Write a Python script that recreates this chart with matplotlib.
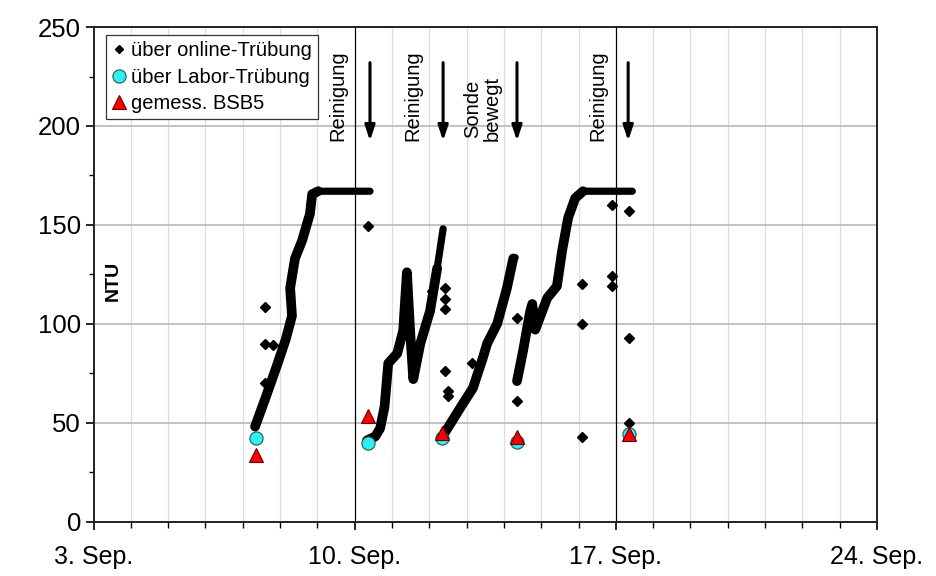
import matplotlib
matplotlib.use("Agg")
import matplotlib.pyplot as plt
from matplotlib.lines import Line2D

plt.rcParams["font.family"] = ["Liberation Sans", "DejaVu Sans"]

# Online turbidity (dense logger record), traced as runs between probe cleanings.
# x = day of September, y = NTU
run1_day = [7.33, 7.60, 7.90, 8.15, 8.32, 8.27, 8.40, 8.59, 8.80, 8.86, 9.02, 10.41]
run1_ntu = [48, 62, 78, 92, 104, 118, 133, 142, 155.5, 165.5, 167, 167]

run2_day = [10.33, 10.55, 10.68, 10.80, 10.90, 11.14, 11.30, 11.40, 11.49, 11.57,
            11.76, 12.02, 12.21, 12.37]
run2_ntu = [41, 43, 47, 58, 80, 85, 96.5, 126, 95, 72, 90, 106.5, 128, 148]

run3_day = [12.37, 12.83, 13.17, 13.44, 13.55, 13.82, 14.08, 14.25, 14.30]
run3_ntu = [43.5, 57.5, 67.5, 83, 90, 100, 118, 133, 133.5]

run4_day = [14.35, 14.51, 14.70, 14.76, 14.84, 15.16, 15.42, 15.56, 15.72, 15.91,
            16.12, 17.44]
run4_ntu = [71, 86, 106, 110, 97, 113, 119, 137, 153.5, 163.5, 167, 167]

# single readings away from the main trace
outlier_day = [7.60, 7.60, 7.81, 7.60, 10.36, 12.08, 12.42, 12.42, 12.42, 12.42,
               12.50, 12.50, 13.14, 14.35, 14.35, 16.10, 16.10, 16.10, 16.90,
               16.90, 16.90, 17.36, 17.36, 17.36]
outlier_ntu = [108.5, 90, 89, 70, 149.5, 116.5, 118, 112.5, 107.5, 76,
               66, 63.5, 80, 103, 61, 120, 100, 42.5, 160,
               124, 119, 157, 93, 50]

# turbidity from lab samples and measured BOD5
labor_day = [7.36, 10.36, 12.34, 14.35, 17.36]
labor_ntu = [42, 39.5, 42, 40, 44.5]
bsb5_day = [7.36, 10.36, 12.34, 14.35, 17.36]
bsb5_ntu = [33.5, 53.5, 45, 42.5, 44.5]

# events marked with arrows
event_day = [10.41, 12.37, 14.35, 17.33]
event_text = ["Reinigung", "Reinigung", "Sonde\nbewegt", "Reinigung"]
event_text_day = [9.54, 11.55, 13.43, 16.51]

xtick_days = [3, 10, 17, 24]
xtick_labels = ["3. Sep.", "10. Sep.", "17. Sep.", "24. Sep."]

fig = plt.figure(figsize=(9.37, 5.76), dpi=100)
ax = fig.add_axes([0.0998, 0.0946, 0.8362, 0.8584])

ax.set_xlim(3, 24)
ax.set_ylim(0, 250)

# grid: light daily lines, black weekly lines, gray horizontal lines
for d in range(4, 24):
    if d in (10, 17):
        ax.axvline(d, color="black", lw=0.9, zorder=1)
    else:
        ax.axvline(d, color="#dedede", lw=0.9, zorder=0.5)
for v in [50, 100, 150, 200, 250]:
    ax.axhline(v, color="#bdbdbd", lw=1.3, zorder=0.6)

# the rising parts of the record scatter more, so they get a wider stroke
for days, vals in [(run1_day, run1_ntu), (run2_day, run2_ntu),
                   (run3_day, run3_ntu), (run4_day, run4_ntu)]:
    ax.plot(days, vals, color="black", lw=5.2, solid_joinstyle="round",
            solid_capstyle="round", zorder=3)
    ax.plot(days[:-1], vals[:-1], color="black", lw=7.0, solid_joinstyle="round",
            solid_capstyle="round", zorder=3)
ax.plot(outlier_day, outlier_ntu, ls="none", marker="D", ms=5, color="black", zorder=3)

ax.plot(labor_day, labor_ntu, ls="none", marker="o", ms=9.5, mfc="#2ff0ee",
        mec="#305050", mew=0.8, zorder=4)
ax.plot(bsb5_day, bsb5_ntu, ls="none", marker="^", ms=9.5, mfc="#ff0000",
        mec="#600000", mew=0.8, zorder=5)

for d in event_day:
    ax.annotate("", xy=(d, 192.5), xytext=(d, 232),
                arrowprops=dict(arrowstyle="-|>,head_length=0.9,head_width=0.3",
                                color="black", lw=2.2, shrinkA=0, shrinkB=0),
                zorder=6)
for d, t in zip(event_text_day, event_text):
    ax.text(d, 192.4, t, rotation=90, ha="center", va="bottom",
            multialignment="center", fontsize=14.5, linespacing=1.05, zorder=6)

ax.text(0.025, 0.486, "NTU", transform=ax.transAxes, rotation=90,
        ha="center", va="center", fontsize=14, fontweight="bold")

# axes, ticks
for s in ax.spines.values():
    s.set_color("#222222")
    s.set_linewidth(1.4)
    s.set_zorder(7)

ax.set_xticks(xtick_days)
ax.set_xticklabels(xtick_labels)
ax.set_xticks(range(3, 25), minor=True)
ax.set_yticks([0, 50, 100, 150, 200, 250])
ax.set_yticks([25, 75, 125, 175, 225], minor=True)
ax.tick_params(axis="x", which="major", direction="out", length=6, width=1.2,
               labelsize=18, pad=11)
ax.tick_params(axis="x", which="minor", direction="out", length=4, width=1.0)
ax.tick_params(axis="y", which="major", direction="out", length=6, width=1.2,
               labelsize=18.5, pad=3)
ax.tick_params(axis="y", which="minor", direction="out", length=3.5, width=1.0)

handles = [
    Line2D([], [], ls="none", marker="D", ms=4.5, color="black"),
    Line2D([], [], ls="none", marker="o", ms=9.5, mfc="#2ff0ee", mec="#305050", mew=0.8),
    Line2D([], [], ls="none", marker="^", ms=9.5, mfc="#ff0000", mec="#600000", mew=0.8),
]
labels = ["über online-Trübung", "über Labor-Trübung", "gemess. BSB5"]
leg = ax.legend(handles, labels, loc="upper left", bbox_to_anchor=(0.016, 0.984),
                borderaxespad=0, fontsize=14.5, handlelength=0.7, handletextpad=0.25,
                borderpad=0.3, labelspacing=0.38, fancybox=False, framealpha=1,
                edgecolor="#333333")
leg.get_frame().set_linewidth(0.9)
leg.set_zorder(8)

fig.savefig("out.png", dpi=100)
